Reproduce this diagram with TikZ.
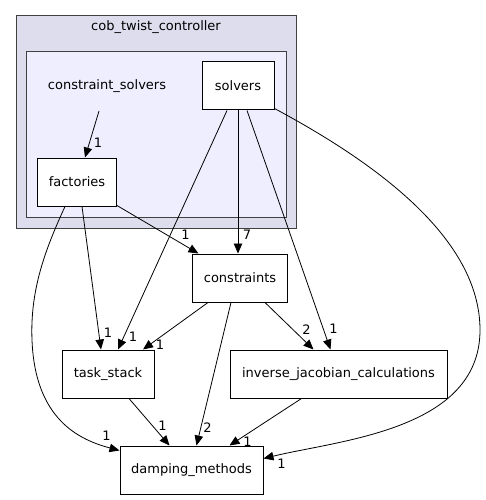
\documentclass[tikz,border=0pt]{standalone}
\usepackage{fontspec}
\setmainfont{DejaVu Sans}
\usetikzlibrary{arrows.meta}

\definecolor{outerfill}{HTML}{DDDDEE}
\definecolor{innerfill}{HTML}{EEEEFF}
\definecolor{clusterline}{HTML}{404040}

\begin{document}
\begin{tikzpicture}[
    x=1pt, y=-1pt,
    dirbox/.style={draw, rectangle, fill=white, line width=1pt, minimum height=48pt,
                   inner sep=0pt, text centered, font=\fontsize{13}{15}\selectfont},
    cluster/.style={draw=clusterline, line width=1pt},
    dep/.style={-{Triangle[length=10pt,width=8.5pt]}, line width=0.8pt},
    lbl/.style={inner sep=0pt, font=\fontsize{13}{15}\selectfont}
]
    \useasboundingbox (0,0) rectangle (486,500);

    % clusters
    \draw[cluster, fill=outerfill] (16,16) rectangle (296,228);
    \node[lbl] (outertitle) at (156,27) {cob\_twist\_controller};
    \draw[cluster, fill=innerfill] (26,52) rectangle (286,217);
    \node[lbl] (cstitle) at (107,86) {constraint\_solvers};
    \coordinate (cs) at (99,111);

    % directories
    \node[dirbox, minimum width=72pt] (solvers) at (238,86) {solvers};
    \node[dirbox, minimum width=79pt] (factories) at (77,182) {factories};
    \node[dirbox, minimum width=95pt] (constraints) at (240,278) {constraints};
    \node[dirbox, minimum width=92pt] (taskstack) at (108,374) {task\_stack};
    \node[dirbox, minimum width=217pt] (invjac) at (338.5,374) {inverse\_jacobian\_calculations};
    \node[dirbox, minimum width=143pt] (damping) at (191.5,470) {damping\_methods};

    % dependencies
    \draw[dep] (cs) -- ([xshift=8pt]factories.north)
        node[lbl, at end, xshift=13pt, yshift=15pt] {1};
    \draw[dep] (factories) -- (constraints)
        node[lbl, at end, xshift=-13pt, yshift=19pt] {1};
    \draw[dep] ([xshift=5pt]factories.south) -- ([xshift=-7pt]taskstack.north)
        node[lbl, at end, xshift=7pt, yshift=17pt] {1};
    \draw[dep] ([xshift=-12pt]factories.south)
        .. controls (45,250) and (30,290) .. (32,340)
        .. controls (35,420) and (80,440) .. ([yshift=-5pt]damping.north west)
        node[lbl, at end, xshift=-13pt, yshift=15pt] {1};

    \draw[dep] (solvers.south) -- (solvers.south |- constraints.north)
        node[lbl, at end, xshift=9pt, yshift=19pt] {7};
    \draw[dep] ([xshift=-11pt]solvers.south) -- ([xshift=10pt]taskstack.north)
        node[lbl, at end, xshift=15pt, yshift=13pt] {1};
    \draw[dep] ([xshift=9pt]solvers.south) -- ([xshift=-8pt]invjac.north)
        node[lbl, at end, xshift=3pt, yshift=21pt] {1};
    \draw[dep] ([yshift=2pt]solvers.south east)
        .. controls (380,165) and (480,240) .. (480,330)
        .. controls (480,430) and (340,440) .. ([yshift=-13pt]damping.north east)
        node[lbl, at end, xshift=18pt, yshift=-5pt] {1};

    \draw[dep] ([xshift=-32pt]constraints.south) -- ([xshift=35pt]taskstack.north)
        node[lbl, at end, xshift=17pt, yshift=5pt] {1};
    \draw[dep] ([xshift=25pt]constraints.south) -- ([xshift=-25pt]invjac.north)
        node[lbl, at end, xshift=-7pt, yshift=20pt] {2};
    \draw[dep] ([xshift=-9pt]constraints.south) -- ([xshift=5pt]damping.north)
        node[lbl, at end, xshift=11pt, yshift=18pt] {2};

    \draw[dep] ([xshift=21pt]taskstack.south) -- ([xshift=-22pt]damping.north)
        node[lbl, at end, xshift=-7pt, yshift=20pt] {1};
    \draw[dep] ([xshift=-37pt]invjac.south) -- ([xshift=38pt]damping.north)
        node[lbl, at end, xshift=18pt, yshift=4pt] {1};
\end{tikzpicture}
\end{document}
